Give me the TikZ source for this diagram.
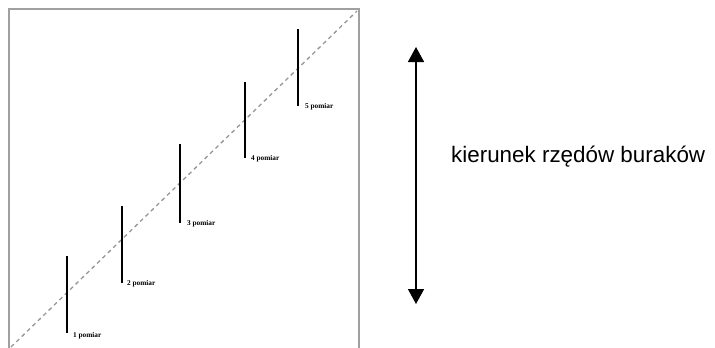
\documentclass[tikz,border=0pt]{standalone}
\usepackage{fontspec}
\setmainfont{Liberation Serif}
\newfontfamily\arialfont{Liberation Sans}
\usetikzlibrary{arrows.meta}
\definecolor{framegray}{RGB}{160,160,160}
\definecolor{diaggray}{RGB}{150,150,150}
\begin{document}
\begin{tikzpicture}[x=1bp,y=-1bp,
  frameline/.style={draw=framegray,line width=2bp},
  diagline/.style={draw=diaggray,line width=1.3bp,dash pattern=on 4bp off 3.5bp},
  measbar/.style={draw=black,line width=2.4bp},
  measlabel/.style={font=\fontsize{7.3bp}{8bp}\selectfont\bfseries,anchor=west,inner sep=0pt},
  dirarrow/.style={draw=black,line width=1.6bp,{Triangle[length=15bp,width=16bp]}-{Triangle[length=15bp,width=16bp]}},
  dirlabel/.style={font=\arialfont\fontsize{22.4bp}{26bp}\selectfont,anchor=base west,inner sep=0pt}]
\useasboundingbox (0,0) rectangle (715,347);
% frame (open at bottom)
\coordinate (fbl) at (9,348);
\coordinate (ftl) at (9,9);
\coordinate (ftr) at (359,9);
\coordinate (fbr) at (359,348);
\draw[frameline] (fbl) -- (ftl) -- (ftr) -- (fbr);
% diagonal
\coordinate (d1) at (11,347);
\coordinate (d2) at (357,11);
\draw[diagline] (d1) -- (d2);
% bars
\coordinate (b1t) at (67,256); \coordinate (b1b) at (67,333);
\coordinate (b2t) at (122,206); \coordinate (b2b) at (122,283);
\coordinate (b3t) at (180,144); \coordinate (b3b) at (180,223);
\coordinate (b4t) at (245,82);  \coordinate (b4b) at (245,158);
\coordinate (b5t) at (298,29);  \coordinate (b5b) at (298,106);
\draw[measbar] (b1t) -- (b1b);
\draw[measbar] (b2t) -- (b2b);
\draw[measbar] (b3t) -- (b3b);
\draw[measbar] (b4t) -- (b4b);
\draw[measbar] (b5t) -- (b5b);
\node[measlabel] (l1) at (73,336) {1 pomiar};
\node[measlabel] (l2) at (127,283.5) {2 pomiar};
\node[measlabel] (l3) at (187,223.5) {3 pomiar};
\node[measlabel] (l4) at (251,158.5) {4 pomiar};
\node[measlabel] (l5) at (305,107) {5 pomiar};
% direction arrow
\coordinate (at) at (416,47);
\coordinate (ab) at (416,304);
\draw[dirarrow] (ab) -- (at);
\node[dirlabel] (dir) at (451,162) {kierunek rzędów buraków};
\end{tikzpicture}
\end{document}
